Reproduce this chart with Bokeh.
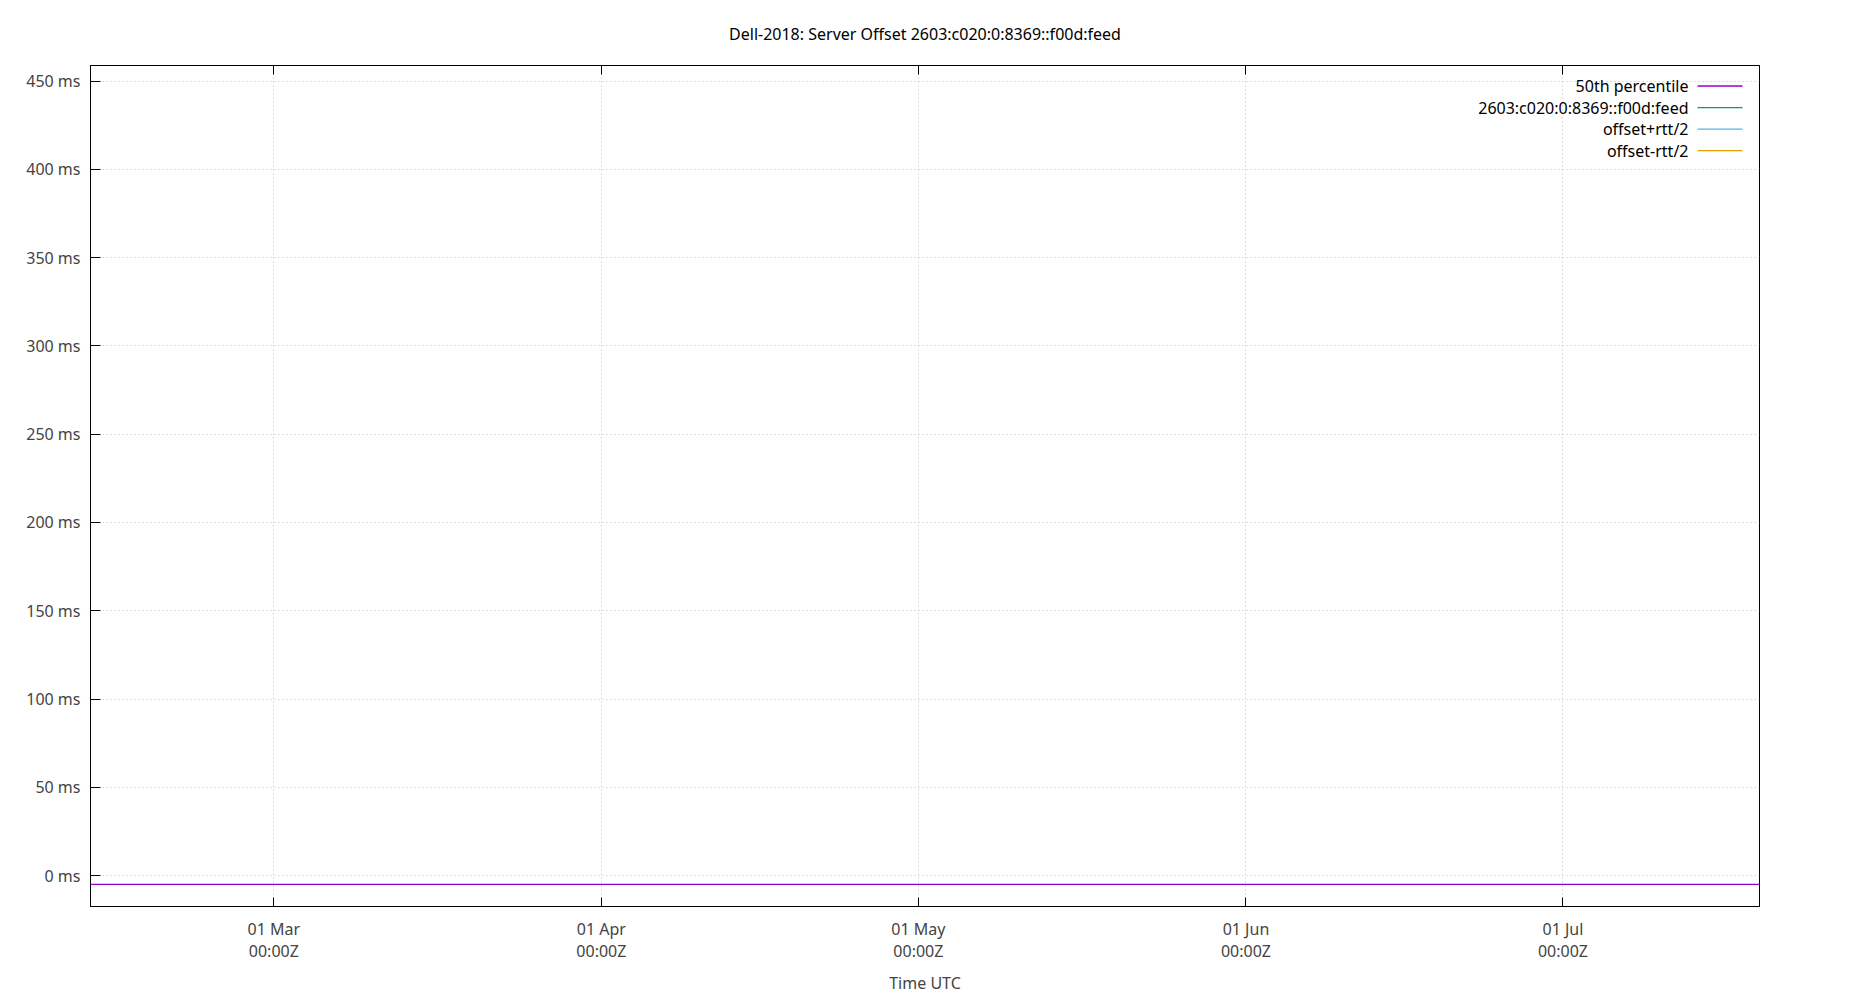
from datetime import datetime

from bokeh.embed import file_html
from bokeh.models import (Arrow, DatetimeAxis, DatetimeTickFormatter, FixedTicker,
                          Label, PrintfTickFormatter, Range1d)
from bokeh.plotting import figure
from bokeh.resources import INLINE

TITLE = "Dell-2018: Server Offset 2603:c020:0:8369::f00d:feed"
FONT = "Noto Sans"

# series (only the median is visible)
median_time = [datetime(2018, 2, 11), datetime(2018, 7, 21)]
median_ms = [-5.0, -5.0]
offset_time = []
offset_ms = []
upper_time = []
upper_ms = []
lower_time = []
lower_ms = []

series_names = ["50th percentile", "2603:c020:0:8369::f00d:feed", "offset+rtt/2", "offset-rtt/2"]
series_colors = ["#9400d3", "#009e73", "#56b4e9", "#e69f00"]

x_ticks = [datetime(2018, m, 1) for m in (3, 4, 5, 6, 7)]
y_ticks = list(range(0, 451, 50))

W, H = 1834, 996
FL, FT, FR, FB = 90, 65, 1759, 907   # frame edges in canvas pixels


def ms(d):
    return (d - datetime(1970, 1, 1)).total_seconds() * 1000.0


x0, x1 = ms(datetime(2018, 2, 11, 15, 36)), ms(datetime(2018, 7, 19, 14, 24))
y0, y1 = -17.5, 458.8

p = figure(width=W, height=H, x_axis_type="datetime",
           x_range=Range1d(x0, x1), y_range=Range1d(y0, y1),
           output_backend="svg", toolbar_location=None,
           min_border_left=FL, min_border_right=W - FR,
           min_border_top=FT, min_border_bottom=H - FB)

p.title.text = TITLE
p.title.align = "center"
p.title.text_font = FONT
p.title.text_font_size = "16px"
p.title.text_font_style = "normal"
p.title.text_color = "#000000"
p.title.standoff = 41

p.outline_line_color = "black"
p.outline_line_width = 1
p.outline_line_alpha = 1

p.grid.grid_line_color = "#bdbdbd"
p.grid.grid_line_dash = "1 3"
p.grid.grid_line_width = 1
p.xgrid.ticker = FixedTicker(ticks=[ms(t) for t in x_ticks])
p.ygrid.ticker = FixedTicker(ticks=y_ticks)

fmt = "%d %b\n%H:%MZ"
xfmt = DatetimeTickFormatter(days=fmt, months=fmt, years=fmt, hours=fmt)

for ax in p.xaxis:
    ax.ticker = FixedTicker(ticks=[ms(t) for t in x_ticks])
    ax.formatter = xfmt
    ax.axis_label = "Time UTC"
    ax.axis_label_text_font = FONT
    ax.axis_label_text_font_size = "16px"
    ax.axis_label_text_font_style = "normal"
    ax.axis_label_standoff = 7
    ax.major_label_text_font = FONT
    ax.major_label_text_font_size = "16px"
    ax.major_label_text_line_height = 1.0
    ax.major_label_standoff = 11
    ax.major_tick_in = 9
    ax.major_tick_out = 0
    ax.minor_tick_line_color = None
    ax.axis_line_color = "black"

for ax in p.yaxis:
    ax.ticker = FixedTicker(ticks=y_ticks)
    ax.formatter = PrintfTickFormatter(format="%d ms")
    ax.major_label_text_font = FONT
    ax.major_label_text_font_size = "16px"
    ax.major_label_standoff = 10
    ax.major_tick_in = 10
    ax.major_tick_out = 0
    ax.minor_tick_line_color = None
    ax.axis_line_color = "black"

# mirrored ticks on the top edge, no labels
top = DatetimeAxis(ticker=FixedTicker(ticks=[ms(t) for t in x_ticks]),
                   major_tick_in=9, major_tick_out=0, minor_tick_line_color=None,
                   major_label_overrides={ms(t): "" for t in x_ticks},
                   major_label_text_font_size="0px", major_label_standoff=0,
                   axis_line_color="black")
p.add_layout(top, "above")

p.line(median_time, median_ms, line_color=series_colors[0], line_width=1.3)
p.line(offset_time, offset_ms, line_color=series_colors[1], line_width=1.3)
p.line(upper_time, upper_ms, line_color=series_colors[2], line_width=1.3)
p.line(lower_time, lower_ms, line_color=series_colors[3], line_width=1.3)


# gnuplot style key: text right aligned, sample line to its right
def px_to_x(px):
    return x0 + (px - FL) / (FR - FL) * (x1 - x0)


def py_to_y(py):
    return y1 - (py - FT) / (FB - FT) * (y1 - y0)


for i, (name, color) in enumerate(zip(series_names, series_colors)):
    yy = py_to_y(85.5 + i * 21.6)
    p.add_layout(Label(x=px_to_x(1688), y=yy, text=name,
                       text_align="right", text_baseline="middle",
                       text_font=FONT, text_font_size="16px", text_color="black"))
    p.add_layout(Arrow(end=None, x_start=px_to_x(1697), y_start=yy,
                       x_end=px_to_x(1742), y_end=yy,
                       line_color=color, line_width=1.3))

open("out.html", "w").write(file_html(p, INLINE))
